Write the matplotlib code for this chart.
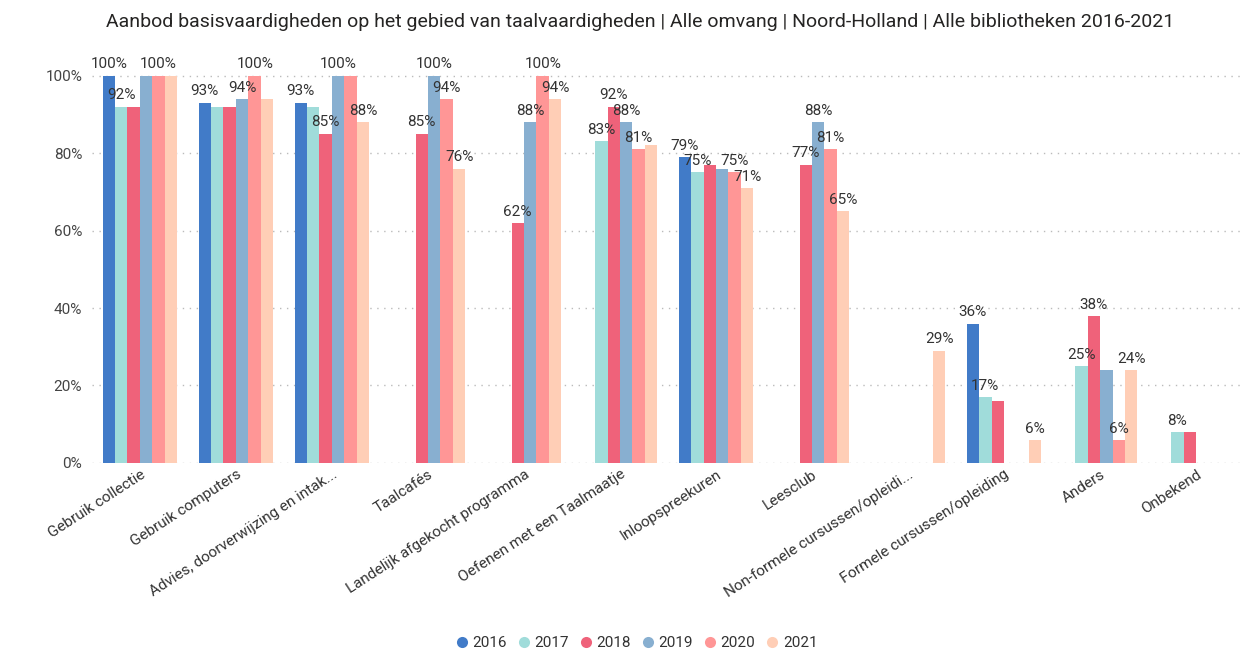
import numpy as np
import matplotlib
matplotlib.use("Agg")
import matplotlib.pyplot as plt
from matplotlib.lines import Line2D

nan = np.nan

title = "Aanbod basisvaardigheden op het gebied van taalvaardigheden | Alle omvang | Noord-Holland | Alle bibliotheken 2016-2021"

categories = [
    "Gebruik collectie", "Gebruik computers", "Advies, doorverwijzing en intak...",
    "Taalcafés", "Landelijk afgekocht programma", "Oefenen met een Taalmaatje",
    "Inloopspreekuren", "Leesclub", "Non-formele cursussen/opleidi...",
    "Formele cursussen/opleiding", "Anders", "Onbekend",
]

years = ["2016", "2017", "2018", "2019", "2020", "2021"]

v2016 = [100, 93, 93, nan, nan, nan, 79, nan, nan, 36, nan, nan]
v2017 = [92, 92, 92, nan, nan, 83, 75, nan, nan, 17, 25, 8]
v2018 = [92, 92, 85, 85, 62, 92, 77, 77, nan, 16, 38, 8]
v2019 = [100, 94, 100, 100, 88, 88, 76, 88, nan, nan, 24, nan]
v2020 = [100, 100, 100, 94, 100, 81, 75, 81, nan, nan, 6, nan]
v2021 = [100, 94, 88, 76, 94, 82, 71, 65, 29, 6, 24, nan]

# which data labels are visible (Power BI hides overlapping ones)
show2016 = [1, 1, 1, 0, 0, 0, 1, 0, 0, 1, 0, 0]
show2017 = [1, 0, 0, 0, 0, 1, 1, 0, 0, 1, 1, 1]
show2018 = [0, 0, 1, 1, 1, 1, 0, 1, 0, 0, 1, 0]
show2019 = [0, 1, 1, 1, 1, 1, 0, 1, 0, 0, 0, 0]
show2020 = [1, 1, 0, 1, 1, 1, 1, 1, 0, 0, 1, 0]
show2021 = [0, 0, 1, 1, 1, 0, 1, 1, 1, 1, 1, 0]

series = [v2016, v2017, v2018, v2019, v2020, v2021]
shows = [show2016, show2017, show2018, show2019, show2020, show2021]
colors = ["#417BC8", "#A0DCDA", "#EF627A", "#88AFD0", "#FF9696", "#FFCEB6"]

yticks = [0, 20, 40, 60, 80, 100]

plt.rcParams['font.family'] = ['Roboto', 'DejaVu Sans']

fig = plt.figure(figsize=(12.58, 6.51), dpi=100)
ax = fig.add_axes([0.0731, 0.2888, 0.9158, 0.619])

x = np.arange(len(categories))
bw = 0.13
n = len(years)
for i, (vals, sh, col) in enumerate(zip(series, shows, colors)):
    offs = (i - (n - 1) / 2) * bw
    vals = np.array(vals, dtype=float)
    ax.bar(x + offs, vals, width=bw, color=col, edgecolor='none', zorder=3)
    for j, (v, s) in enumerate(zip(vals, sh)):
        if s and not np.isnan(v):
            ax.annotate(f"{v:.0f}%", (x[j] + offs, v), xytext=(0, 3),
                        textcoords='offset points', ha='center', va='bottom',
                        fontsize=11, color='#333333', zorder=4)

ax.set_xlim(-0.5, len(categories) - 0.5)
ax.set_ylim(0, 104)
ax.set_yticks(yticks)
ax.set_yticklabels([f"{t}%" for t in yticks], fontsize=11, color='#444444')
ax.set_xticks(x)
ax.set_xticklabels(categories, rotation=33, ha='right', rotation_mode='anchor',
                   fontsize=11, color='#333333')
ax.tick_params(axis='x', length=0, pad=3)
ax.tick_params(axis='y', length=0, pad=7)
for sp in ax.spines.values():
    sp.set_visible(False)
ax.yaxis.grid(True, linestyle=(0, (1, 4)), color='#bbbbbb', linewidth=1, zorder=0)
ax.set_axisbelow(True)

fig.text(0.509, 0.966, title, ha='center', va='center', fontsize=14, color='#252423')

handles = [Line2D([0], [0], marker='o', linestyle='none', markersize=8,
                  markerfacecolor=c, markeredgecolor='none') for c in colors]
fig.legend(handles, years, loc='center', bbox_to_anchor=(0.506, 0.012), ncol=6,
           frameon=False, fontsize=11, handlelength=0.8, handletextpad=0.3,
           columnspacing=0.7, labelcolor='#333333')

fig.savefig("out.png", dpi=100)
